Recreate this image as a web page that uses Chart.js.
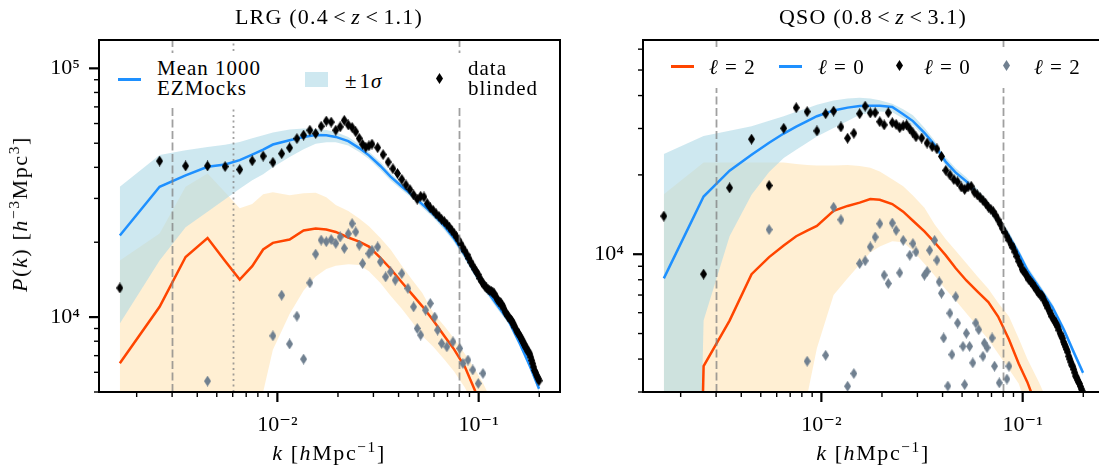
<!DOCTYPE html>
<html>
<head>
<meta charset="utf-8">
<script src="https://cdn.jsdelivr.net/npm/chart.js@4.4.1/dist/chart.umd.min.js"></script>
<style>
  html, body { margin: 0; padding: 0; background: #fff; }
  #fig { position: relative; width: 1099px; height: 468px; overflow: hidden;
         font-family: 'Liberation Serif', 'DejaVu Serif', serif; color: #000; }
  #fig canvas { position: absolute; top: 0; }
  .t { position: absolute; white-space: nowrap; font-size: 21px; line-height: 20px; letter-spacing: 1px; z-index: 3; }
  .lab { font-size: 22px; letter-spacing: 1.6px; }
  .ttl { font-size: 22px; letter-spacing: 1.2px; }
  .c { transform: translateX(-50%); }
  .op { margin: 0 0.2em; }
  .eq { margin: 0 0.3em; }
  .box { position: absolute; background: #fff; z-index: 2; border-radius: 4px; }
  .hl { position: absolute; height: 2.5px; width: 23px; z-index: 3; }
  .patch { position: absolute; width: 23px; height: 15px; z-index: 3; }
  .dm { position: absolute; z-index: 3; }
  sup { font-size: 70%; vertical-align: 0; position: relative; top: -0.5em; }
</style>
</head>
<body>
<div id="fig">
  <canvas id="lrg" width="590" height="468" style="left:0"></canvas>
  <canvas id="qso" width="560" height="468" style="left:560px"></canvas>

  <div class="t ttl c" style="left:329px; top:7px">LRG (0.4<span class="op">&lt;</span><i>z</i><span class="op">&lt;</span>1.1)</div>
  <div class="t ttl c" style="left:873px; top:7px">QSO (0.8<span class="op">&lt;</span><i>z</i><span class="op">&lt;</span>3.1)</div>
  <div class="t lab c" style="left:329px; top:443px"><i>k</i> [<i>h</i>Mpc<sup>−1</sup>]</div>
  <div class="t lab c" style="left:873px; top:443px"><i>k</i> [<i>h</i>Mpc<sup>−1</sup>]</div>
  <div class="t lab" style="left:21px; top:214px; transform: translate(-50%,-50%) rotate(-90deg)"><i>P</i>(<i>k</i>) [<i>h</i><sup>−3</sup>Mpc<sup>3</sup>]</div>

  <!-- LRG legend -->
  <div class="box" style="left:104px; top:53px; width:452px; height:54px"></div>
  <div class="hl" style="left:118px; top:78px; background:#1E90FF"></div>
  <div class="t" style="left:157px; top:58px">Mean 1000<br>EZMocks</div>
  <div class="patch" style="left:305px; top:72px; background:rgba(173,216,230,0.6)"></div>
  <div class="t" style="left:345px; top:71px">±<span style="margin-left:2px">1</span><i>σ</i></div>
  <svg class="dm" style="left:436px; top:73px" width="7" height="11"><polygon points="3.5,0 7,5.5 3.5,11 0,5.5" fill="#000"/></svg>
  <div class="t" style="left:468px; top:58px">data<br>blinded</div>

  <!-- QSO legend -->
  <div class="box" style="left:660px; top:47px; width:439px; height:41px"></div>
  <div class="hl" style="left:671px; top:65px; background:#FF4500"></div>
  <div class="t" style="left:709px; top:57px"><i>ℓ</i><span class="eq">=</span>2</div>
  <div class="hl" style="left:779px; top:65px; background:#1E90FF"></div>
  <div class="t" style="left:818px; top:57px"><i>ℓ</i><span class="eq">=</span>0</div>
  <svg class="dm" style="left:896px; top:60px" width="7" height="11"><polygon points="3.5,0 7,5.5 3.5,11 0,5.5" fill="#000"/></svg>
  <div class="t" style="left:924px; top:57px"><i>ℓ</i><span class="eq">=</span>0</div>
  <svg class="dm" style="left:1003px; top:60px" width="7" height="11"><polygon points="3.5,0 7,5.5 3.5,11 0,5.5" fill="#708090"/></svg>
  <div class="t" style="left:1034px; top:57px"><i>ℓ</i><span class="eq">=</span>2</div>
</div>

<script>
// k of the data points (bin centres)
const kData = [
  0.00165, 0.0026, 0.0035, 0.0045, 0.0055, 0.0065, 0.0075, 0.0085, 0.0095, 0.0105,
  0.0115, 0.0125, 0.0135, 0.0145, 0.0155, 0.0165, 0.0175, 0.0185, 0.0195, 0.0205,
  0.0215, 0.0225, 0.0235, 0.0245, 0.0255, 0.0265, 0.0275, 0.0285, 0.0295,
  0.0315, 0.0335, 0.0355, 0.0375, 0.0395, 0.0415, 0.0435, 0.0455, 0.0475, 0.0495,
  0.0515, 0.0535, 0.0555, 0.0575, 0.0595, 0.0615, 0.0635, 0.0655, 0.0675, 0.0695,
  0.0715, 0.0735, 0.0755, 0.0775, 0.0795, 0.0815, 0.0835, 0.0855, 0.0875, 0.0895,
  0.0915, 0.0935, 0.0955, 0.0975, 0.0995, 0.1015, 0.1035, 0.1055, 0.1075, 0.1095,
  0.1115, 0.1135, 0.1155, 0.1175, 0.1195, 0.1215, 0.1235, 0.1255, 0.1275, 0.1295,
  0.1315, 0.1335, 0.1355, 0.1375, 0.1395, 0.1415, 0.1435, 0.1455, 0.1475, 0.1495,
  0.1515, 0.1535, 0.1555, 0.1575, 0.1595, 0.1615, 0.1635, 0.1655, 0.1675, 0.1695,
  0.1715, 0.1735, 0.1755, 0.1775, 0.1795, 0.1815, 0.1835, 0.1855, 0.1875, 0.1895,
  0.1915, 0.1935, 0.1955, 0.1975, 0.1995
];
// LRG monopole, data (black)
const lrgData0 = [
  13100, 42400, 40500, 40500, 40300, 39200, 42500, 44400, 41900, 45400,
  47900, 52200, 53900, 56400, 54700, 58500, 61400, 60800, 56400, 58200,
  61800, 59200, 57900, 55600, 52300, 49500, 48200, 48800, 49600,
  48000, 45000, 42000, 39500, 37800, 35800, 34000, 32600, 31000, 29800,
  30600, 30400, 28600, 27500, 26800, 26000, 25400, 24700, 24200, 23600,
  23000, 22300, 21700, 21000, 20400, 19700, 19000, 18400, 17800, 17200,
  16600, 16100, 15600, 15200, 14800, 14300, 13900, 13600, 13300, 13100,
  12900, 12800, 12700, 12600, 12400, 12100, 11800, 11600, 11500, 11300,
  11100, 10800, 10500, 10300, 10100, 9950, 9800, 9700, 9500, 9300,
  9100, 8900, 8700, 8600, 8450, 8300, 8150, 8000, 7850, 7700,
  7550, 7450, 7300, 7200, 7100, 6900, 6700, 6500, 6300, 6100,
  6000, 5850, 5750, 5650, 5550
];
// QSO monopole, data (black)
const qsoData0 = [
  13950, 8405, 17860, 27330, 18220, 30060, 35970, 34750, 29380, 34140,
  34920, 30400, 27560, 28780, 34140, 36470, 34360, 34430, 31830, 30950,
  34430, 31560, 31100, 30200, 30700, 30950, 29900, 28900, 27900,
  27600, 26400, 25600, 25100, 23500, 20800, 20000, 19200, 18800, 18000,
  17600, 18000, 18100, 17200, 16800, 16400, 16000, 15600, 15100, 14800,
  14500, 14000, 13500, 13000, 12500, 12100, 11700, 11300, 10900, 10600,
  10200, 9800, 9400, 9100, 8750, 8600, 8400, 8200, 8000, 7900,
  7750, 7600, 7450, 7300, 7150, 7050, 7000, 6900, 6700, 6550,
  6400, 6250, 6100, 5950, 5800, 5700, 5600, 5500, 5400, 5300,
  5150, 5000, 4900, 4800, 4650, 4550, 4450, 4350, 4250, 4100,
  4000, 3900, 3800, 3750, 3650, 3550, 3450, 3400, 3330, 3270,
  3230, 3150, 3080, 3020, 2960
];
// quadrupole data (grey), only the points inside the plotted range
const lrgK2 = [0.0045, 0.0095, 0.0105, 0.0115, 0.0125, 0.0135, 0.0145, 0.0155, 0.0165, 0.0175,
  0.0185, 0.0195, 0.0205, 0.0215, 0.0225, 0.0235, 0.0245, 0.0255, 0.0265, 0.0285,
  0.0295, 0.0315, 0.0325, 0.0345, 0.0365, 0.0385, 0.0415, 0.0445, 0.0475, 0.0495,
  0.0515, 0.0545, 0.0575, 0.0605, 0.0625, 0.0655, 0.0695, 0.0745, 0.0805, 0.0835,
  0.0885, 0.0935, 0.0995, 0.1050];
const lrgData2 = [5530, 8410, 12250, 7800, 10090, 6780, 13730, 17920, 20400, 20100,
  20500, 19800, 21000, 18900, 21640, 23760, 22000, 19470, 16420, 18000,
  18570, 19150, 16680, 14520, 15200, 14080, 14970, 13040, 11000, 9000,
  8470, 10670, 11350, 10010, 8870, 7840, 7600, 7960, 7480, 6510,
  6720, 6130, 5410, 5940];
const qsoK2 = [0.0055, 0.0085, 0.0105, 0.0115, 0.0125, 0.0135, 0.0145, 0.0155, 0.0165, 0.0175,
  0.0185, 0.0195, 0.0205, 0.0215, 0.0225, 0.0235, 0.0245, 0.0255, 0.0275, 0.0285,
  0.0295, 0.0325, 0.0335, 0.0345, 0.0365, 0.0375, 0.0385, 0.0395, 0.0405, 0.0425,
  0.0435, 0.0445, 0.0465, 0.0475, 0.0505, 0.0515, 0.0525, 0.0545, 0.0565, 0.0585,
  0.0605, 0.0635, 0.0645, 0.0665, 0.0705, 0.0725, 0.0765, 0.0835, 0.0855];
const qsoData2 = [12400, 3925, 4135, 15080, 13520, 3156, 3526, 9220, 9440, 10660,
  11620, 13050, 8330, 7740, 13130, 12320, 8500, 11290, 9910, 10970,
  10200, 8330, 8600, 10350, 11290, 9490, 7850, 7110, 4810, 3160,
  5970, 4160, 6900, 5480, 4470, 3200, 5010, 4470, 3870, 5480,
  5170, 4100, 4600, 4420, 4810, 3760, 3250, 3360, 3760];

// mean of 1000 EZMocks and +-1 sigma (values of 1e-3 stand for non-positive, clipped on the log axis)
const kMock = [0.00165, 0.0026, 0.0035, 0.0045, 0.0055, 0.0065, 0.0075, 0.0085, 0.0095, 0.0115,
  0.0135, 0.0155, 0.0175, 0.0195, 0.0225, 0.0255, 0.0285, 0.0325, 0.0365, 0.0415,
  0.0465, 0.0525, 0.0595, 0.0675, 0.0755, 0.0855, 0.0955, 0.1055, 0.1205, 0.1405,
  0.1605, 0.1805, 0.1995];
const lrgMock0 = [21300, 33400, 37150, 40200, 41100, 42750, 45000, 47100, 49400, 51400,
  53000, 54000, 53800, 53000, 51000, 47800, 44700, 40500, 36700, 33500,
  31000, 28400, 25900, 23200, 20700, 17700, 15100, 13400, 11500, 9700,
  7800, 6300, 5150];
const lrgMock0Hi = [33400, 44800, 46900, 48300, 49300, 50600, 52400, 53800, 55200, 56800,
  57300, 57000, 56500, 55500, 53000, 49500, 46200, 42000, 38000, 34600,
  31900, 29300, 26700, 24000, 21400, 18300, 15600, 13850, 11900, 10000,
  8050, 6500, 5320];
const lrgMock0Lo = [9430, 16900, 23000, 26500, 29800, 32800, 35500, 37500, 40000, 44000,
  47300, 49800, 50500, 50400, 49000, 46100, 43200, 39000, 35400, 32400,
  30100, 27500, 25100, 22400, 20000, 17100, 14600, 12950, 11100, 9400,
  7550, 6100, 4980];
const lrgMock2 = [6520, 11000, 17450, 20800, 16800, 14160, 16030, 18700, 19880, 20500,
  22300, 22700, 22500, 22000, 20900, 20100, 19200, 17300, 15650, 13800,
  12400, 11050, 9700, 8400, 7420, 6300, 5100, 4200, null, null,
  null, null, null];
const lrgMock2Hi = [16900, 21700, 33400, 37800, 31800, 27400, 28500, 31200, 31800, 30900,
  31500, 31600, 30300, 28200, 26700, 24900, 23200, 20800, 18700, 16100,
  14200, 12500, 10400, 9200, 8200, 7100, 6200, 5400, 4300, null,
  null, null, null];
const lrgMock2Lo = [1e-3, 1e-3, 1e-3, 1e-3, 1e-3, 1e-3, 1e-3, 5000, 7400, 10300,
  12800, 14550, 15600, 16100, 16300, 16200, 15300, 13700, 12200, 10800,
  9600, 8400, 7600, 6750, 6050, 5200, 4300, 3600, 2900, null,
  null, null, null];
const qsoMock0 = [8100, 16560, 20750, 23840, 26500, 28700, 30500, 32000, 33400, 35100,
  36000, 36500, 36600, 36600, 36200, 34000, 32000, 28900, 26000, 22400,
  20400, 18900, 17000, 15200, 13500, 11700, 10100, 8700, 7500, 6300,
  5150, 4200, 3550];
const qsoMock0Hi = [24000, 28100, 29400, 30600, 32100, 33400, 34700, 35800, 36900, 38300,
  39000, 39200, 39000, 38400, 37200, 35500, 33700, 30200, 27000, 23300,
  21200, 19600, 17700, 15800, 14000, 12150, 10450, 9000, 7750, 6500,
  5300, 4330, 3650];
const qsoMock0Lo = [1e-3, 5600, 11700, 16800, 20500, 23200, 24900, 26500, 28000, 30100,
  32000, 33800, 34400, 34800, 34600, 32700, 30800, 27800, 25000, 21600,
  19600, 18200, 16400, 14600, 13000, 11250, 9750, 8400, 7250, 6100,
  5000, 4080, 3450];
const qsoMock2 = [1e-3, 3758, 5600, 8400, 9750, 10800, 11700, 12300, 12800, 14600,
  15250, 15700, 16200, 16100, 15500, 14500, 13400, 12200, 11100, 9900,
  8850, 7950, 7230, 6580, 5800, 4750, 3850, 3270, 2500, null,
  null, null, null];
const qsoMock2Hi = [16900, 22300, 22300, 22300, 22300, 22300, 22000, 21800, 21700, 21700,
  21800, 21600, 21300, 20600, 19250, 18100, 16700, 15000, 13000, 11400,
  10300, 9240, 8250, 7400, 6550, 5800, 4800, 4000, 3270, 2500,
  null, null, null];
const qsoMock2Lo = [1e-3, 1e-3, 1e-3, 1e-3, 1e-3, 1e-3, 1e-3, 2900, 4400, 7000,
  8100, 9150, 10150, 10700, 11200, 11100, 10300, 9200, 8300, 7350,
  6680, 5970, 5330, 4750, 4200, 3660, 3230, 2600, 2000, 1500,
  null, null, null];

// fitting range markers
const kDashed = [0.003, 0.08];
const kDottedLRG = [0.006];

// axes
const xRange = [0.0013, 0.2535];
const yRangeLRG = [5000, 130000];
const yRangeQSO = [3000, 65000];
const xTicks = [0.002, 0.003, 0.004, 0.005, 0.006, 0.007, 0.008, 0.009, 0.01,
  0.02, 0.03, 0.04, 0.05, 0.06, 0.07, 0.08, 0.09, 0.1, 0.2];
const yTicksLRG = [5000, 6000, 7000, 8000, 9000, 10000, 20000, 30000, 40000, 50000,
  60000, 70000, 80000, 90000, 100000];
const yTicksQSO = [3000, 4000, 5000, 6000, 7000, 8000, 9000, 10000, 20000, 30000,
  40000, 50000, 60000];
const tickText = {'0.01': '10⁻²', '0.1': '10⁻¹', '10000': '10⁴', '100000': '10⁵'};

const BLUE = '#1E90FF', ORANGE = '#FF4500', GREY = '#708090';
const BAND0 = 'rgba(173,216,230,0.6)', BAND2 = 'rgba(255,228,181,0.6)';
const FONT = "'Liberation Serif', 'DejaVu Serif', serif";

function diamond(color) {
  const c = document.createElement('canvas');
  c.width = 7; c.height = 11;
  const g = c.getContext('2d');
  g.fillStyle = color;
  g.beginPath();
  g.moveTo(3.5, 0); g.lineTo(7, 5.5); g.lineTo(3.5, 11); g.lineTo(0, 5.5);
  g.closePath(); g.fill();
  return c;
}
const blackDiamond = diamond('#000');
const greyDiamond = diamond(GREY);

const pts = (ks, vs) => ks.map((k, i) => ({x: k, y: vs[i]}));
const isDecade = v => Math.abs(Math.log10(v) - Math.round(Math.log10(v))) < 1e-9;

const frame = {
  id: 'frame',
  afterDatasetsDraw(chart, args, opts) {
    const {ctx, chartArea: a, scales: {x}} = chart;
    ctx.save();
    ctx.beginPath();
    ctx.rect(a.left, a.top, a.right - a.left, a.bottom - a.top);
    ctx.clip();
    ctx.strokeStyle = 'rgba(128,128,128,0.75)';
    ctx.lineWidth = 1.8;
    const vline = (k, dash) => {
      const px = Math.round(x.getPixelForValue(k)) + 0.5;
      ctx.setLineDash(dash);
      ctx.beginPath();
      ctx.moveTo(px, a.bottom);
      ctx.lineTo(px, a.top);
      ctx.stroke();
    };
    (opts.dashed || []).forEach(k => vline(k, [8, 3.5]));
    (opts.dotted || []).forEach(k => vline(k, [2, 3.5]));
    ctx.restore();
  },
  afterDraw(chart) {
    const {ctx, chartArea: a, scales: {x, y}} = chart;
    ctx.save();
    ctx.strokeStyle = '#000';
    x.ticks.forEach(t => {
      const px = x.getPixelForValue(t.value);
      if (px < a.left - 1 || px > a.right + 1) return;
      const major = isDecade(t.value);
      ctx.lineWidth = major ? 2.2 : 1.4;
      ctx.beginPath();
      ctx.moveTo(px, a.bottom);
      ctx.lineTo(px, a.bottom + (major ? 10 : 5));
      ctx.stroke();
    });
    y.ticks.forEach(t => {
      const py = y.getPixelForValue(t.value);
      if (py < a.top - 1 || py > a.bottom + 1) return;
      const major = isDecade(t.value);
      ctx.lineWidth = major ? 2.2 : 1.4;
      ctx.beginPath();
      ctx.moveTo(a.left, py);
      ctx.lineTo(a.left - (major ? 10 : 5), py);
      ctx.stroke();
    });
    ctx.lineWidth = 2;
    ctx.strokeRect(a.left, a.top, a.right - a.left, a.bottom - a.top);
    ctx.restore();
  }
};

function panel(id, s, yRange, yTicks, yWidth, rightPad, vlines) {
  const band = (data, color, fillTo, order) => ({
    data, showLine: true, borderWidth: 0, pointRadius: 0,
    backgroundColor: color, fill: fillTo === null ? false : fillTo, order
  });
  const line = (data, color, order) => ({
    data, showLine: true, borderColor: color, borderWidth: 2.5, pointRadius: 0,
    fill: false, order, spanGaps: false
  });
  const dots = (data, img, order) => ({
    data, showLine: false, pointStyle: img, pointRadius: 4, order
  });
  return new Chart(document.getElementById(id), {
    type: 'scatter',
    data: {
      datasets: [
        band(pts(kMock, s.m2lo), BAND2, null, 6),
        band(pts(kMock, s.m2hi), BAND2, 0, 7),
        band(pts(kMock, s.m0lo), BAND0, null, 4),
        band(pts(kMock, s.m0hi), BAND0, 2, 5),
        line(pts(kMock, s.m0), BLUE, 3),
        line(pts(kMock, s.m2), ORANGE, 2),
        dots(pts(kData, s.d0), blackDiamond, 1),
        dots(pts(s.k2, s.d2), greyDiamond, 0)
      ]
    },
    options: {
      responsive: false,
      animation: false,
      events: [],
      layout: {padding: {top: 40, right: rightPad, bottom: 0, left: 0}},
      plugins: {legend: {display: false}, tooltip: {enabled: false}, frame: vlines},
      scales: {
        x: {
          type: 'logarithmic', min: xRange[0], max: xRange[1], bounds: 'data',
          grid: {display: false, drawTicks: false}, border: {display: false},
          afterBuildTicks: sc => { sc.ticks = xTicks.map(v => ({value: v})); },
          afterFit: sc => { sc.height = 76; },
          ticks: {
            autoSkip: false, maxRotation: 0, padding: 20, color: '#000',
            font: {family: FONT, size: 22},
            callback: v => tickText[String(v)] || ''
          }
        },
        y: {
          type: 'logarithmic', min: yRange[0], max: yRange[1], bounds: 'data',
          grid: {display: false, drawTicks: false}, border: {display: false},
          afterBuildTicks: sc => { sc.ticks = yTicks.map(v => ({value: v})); },
          afterFit: sc => { sc.width = yWidth; },
          ticks: {
            autoSkip: false, padding: 19, color: '#000',
            font: {family: FONT, size: 22},
            callback: v => tickText[String(v)] || ''
          }
        }
      }
    },
    plugins: [frame]
  });
}

panel('lrg', {
  m0: lrgMock0, m0hi: lrgMock0Hi, m0lo: lrgMock0Lo,
  m2: lrgMock2, m2hi: lrgMock2Hi, m2lo: lrgMock2Lo,
  d0: lrgData0, k2: lrgK2, d2: lrgData2
}, yRangeLRG, yTicksLRG, 99, 30, {dashed: kDashed, dotted: kDottedLRG});

panel('qso', {
  m0: qsoMock0, m0hi: qsoMock0Hi, m0lo: qsoMock0Lo,
  m2: qsoMock2, m2hi: qsoMock2Hi, m2lo: qsoMock2Lo,
  d0: qsoData0, k2: qsoK2, d2: qsoData2
}, yRangeQSO, yTicksQSO, 83, 16, {dashed: kDashed});
</script>
</body>
</html>
